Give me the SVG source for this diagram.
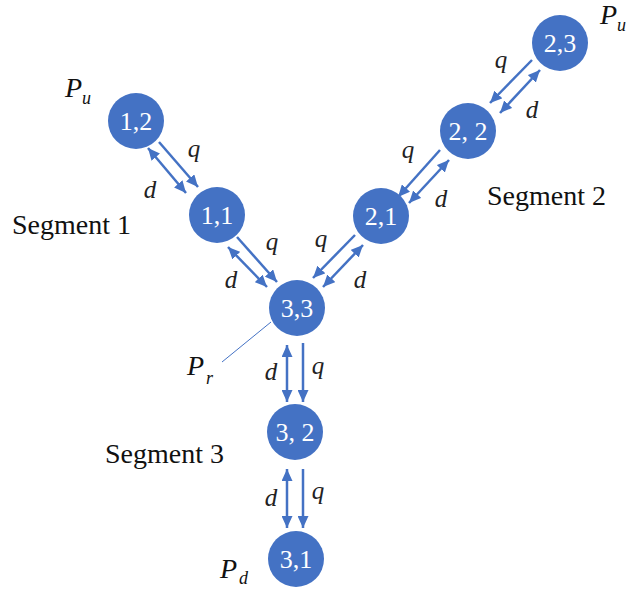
<svg xmlns="http://www.w3.org/2000/svg" width="632" height="592" viewBox="0 0 632 592">
<style>
.node{fill:#4472C4}
.nl{font-size:26px;fill:#fff;text-anchor:middle}
.ar{stroke:#4472C4;stroke-width:2.5;fill:none}
.lab{font-style:italic;font-size:25px;fill:#222;text-anchor:middle}
.seg{font-size:28px;fill:#111}
.P{font-style:italic;font-size:28px;fill:#111}
.sub{font-style:italic;font-size:18px;fill:#111}
</style>
<defs>
<marker id="ah" markerUnits="userSpaceOnUse" markerWidth="12" markerHeight="11" refX="12" refY="5.5" orient="auto-start-reverse">
<path d="M0,0 L12,5.5 L0,11 z" fill="#4472C4"/>
</marker>
</defs>
<rect width="632" height="592" fill="#fff"/>
<g id="connectors">
<line class="ar" x1="159" y1="142" x2="198" y2="187" marker-end="url(#ah)"/>
<line class="ar" x1="148" y1="148" x2="186" y2="193" marker-start="url(#ah)" marker-end="url(#ah)"/>
<line class="ar" x1="237" y1="237" x2="277" y2="282" marker-end="url(#ah)"/>
<line class="ar" x1="228" y1="247" x2="267" y2="287" marker-start="url(#ah)" marker-end="url(#ah)"/>
<line class="ar" x1="532" y1="60" x2="490" y2="103" marker-end="url(#ah)"/>
<line class="ar" x1="540" y1="70" x2="500" y2="113" marker-start="url(#ah)" marker-end="url(#ah)"/>
<line class="ar" x1="440" y1="150" x2="398" y2="197" marker-end="url(#ah)"/>
<line class="ar" x1="449" y1="160" x2="409" y2="203" marker-start="url(#ah)" marker-end="url(#ah)"/>
<line class="ar" x1="355" y1="235" x2="313" y2="278" marker-end="url(#ah)"/>
<line class="ar" x1="363" y1="245" x2="323" y2="287" marker-start="url(#ah)" marker-end="url(#ah)"/>
<line class="ar" x1="287" y1="345" x2="287" y2="402" marker-start="url(#ah)" marker-end="url(#ah)"/>
<line class="ar" x1="303" y1="343" x2="303" y2="402" marker-end="url(#ah)"/>
<line class="ar" x1="287" y1="469" x2="287" y2="528" marker-start="url(#ah)" marker-end="url(#ah)"/>
<line class="ar" x1="303" y1="469" x2="303" y2="528" marker-end="url(#ah)"/>
<line x1="222" y1="362" x2="271" y2="322" stroke="#4472C4" stroke-width="1"/>
</g>
<g id="labels" font-family="Liberation Serif, Times New Roman, serif">
<text class="lab" x="194" y="157">q</text>
<text class="lab" x="150" y="198">d</text>
<text class="lab" x="272" y="250">q</text>
<text class="lab" x="231" y="288">d</text>
<text class="lab" x="501" y="68">q</text>
<text class="lab" x="532" y="118">d</text>
<text class="lab" x="408" y="158">q</text>
<text class="lab" x="441" y="207">d</text>
<text class="lab" x="321" y="247">q</text>
<text class="lab" x="360" y="288">d</text>
<text class="lab" x="271" y="380">d</text>
<text class="lab" x="318" y="374">q</text>
<text class="lab" x="271" y="506">d</text>
<text class="lab" x="318" y="499">q</text>
<text class="seg" x="12" y="234">Segment 1</text>
<text class="seg" x="487" y="205">Segment 2</text>
<text class="seg" x="105" y="463">Segment 3</text>
<text class="P" x="65" y="97">P</text><text class="sub" x="82" y="104">u</text>
<text class="P" x="600" y="24">P</text><text class="sub" x="617" y="31">u</text>
<text class="P" x="187" y="375">P</text><text class="sub" x="206" y="384">r</text>
<text class="P" x="220" y="578">P</text><text class="sub" x="239" y="584">d</text>
</g>
<g font-family="Liberation Serif, Times New Roman, serif">
<g id="n12"><circle class="node" cx="136" cy="121" r="28"/><text class="nl" x="136" y="130">1,2</text></g>
<g id="n11"><circle class="node" cx="217" cy="215" r="28"/><text class="nl" x="217" y="224">1,1</text></g>
<g id="n33"><circle class="node" cx="297" cy="308" r="28"/><text class="nl" x="297" y="317">3,3</text></g>
<g id="n32"><circle class="node" cx="295" cy="432" r="28"/><text class="nl" x="295" y="441">3, 2</text></g>
<g id="n31"><circle class="node" cx="296" cy="559" r="28"/><text class="nl" x="296" y="568">3,1</text></g>
<g id="n21"><circle class="node" cx="381" cy="216" r="28"/><text class="nl" x="381" y="225">2,1</text></g>
<g id="n22"><circle class="node" cx="468" cy="131" r="28"/><text class="nl" x="468" y="140">2, 2</text></g>
<g id="n23"><circle class="node" cx="560" cy="43" r="28"/><text class="nl" x="560" y="52">2,3</text></g>
</g>
</svg>
